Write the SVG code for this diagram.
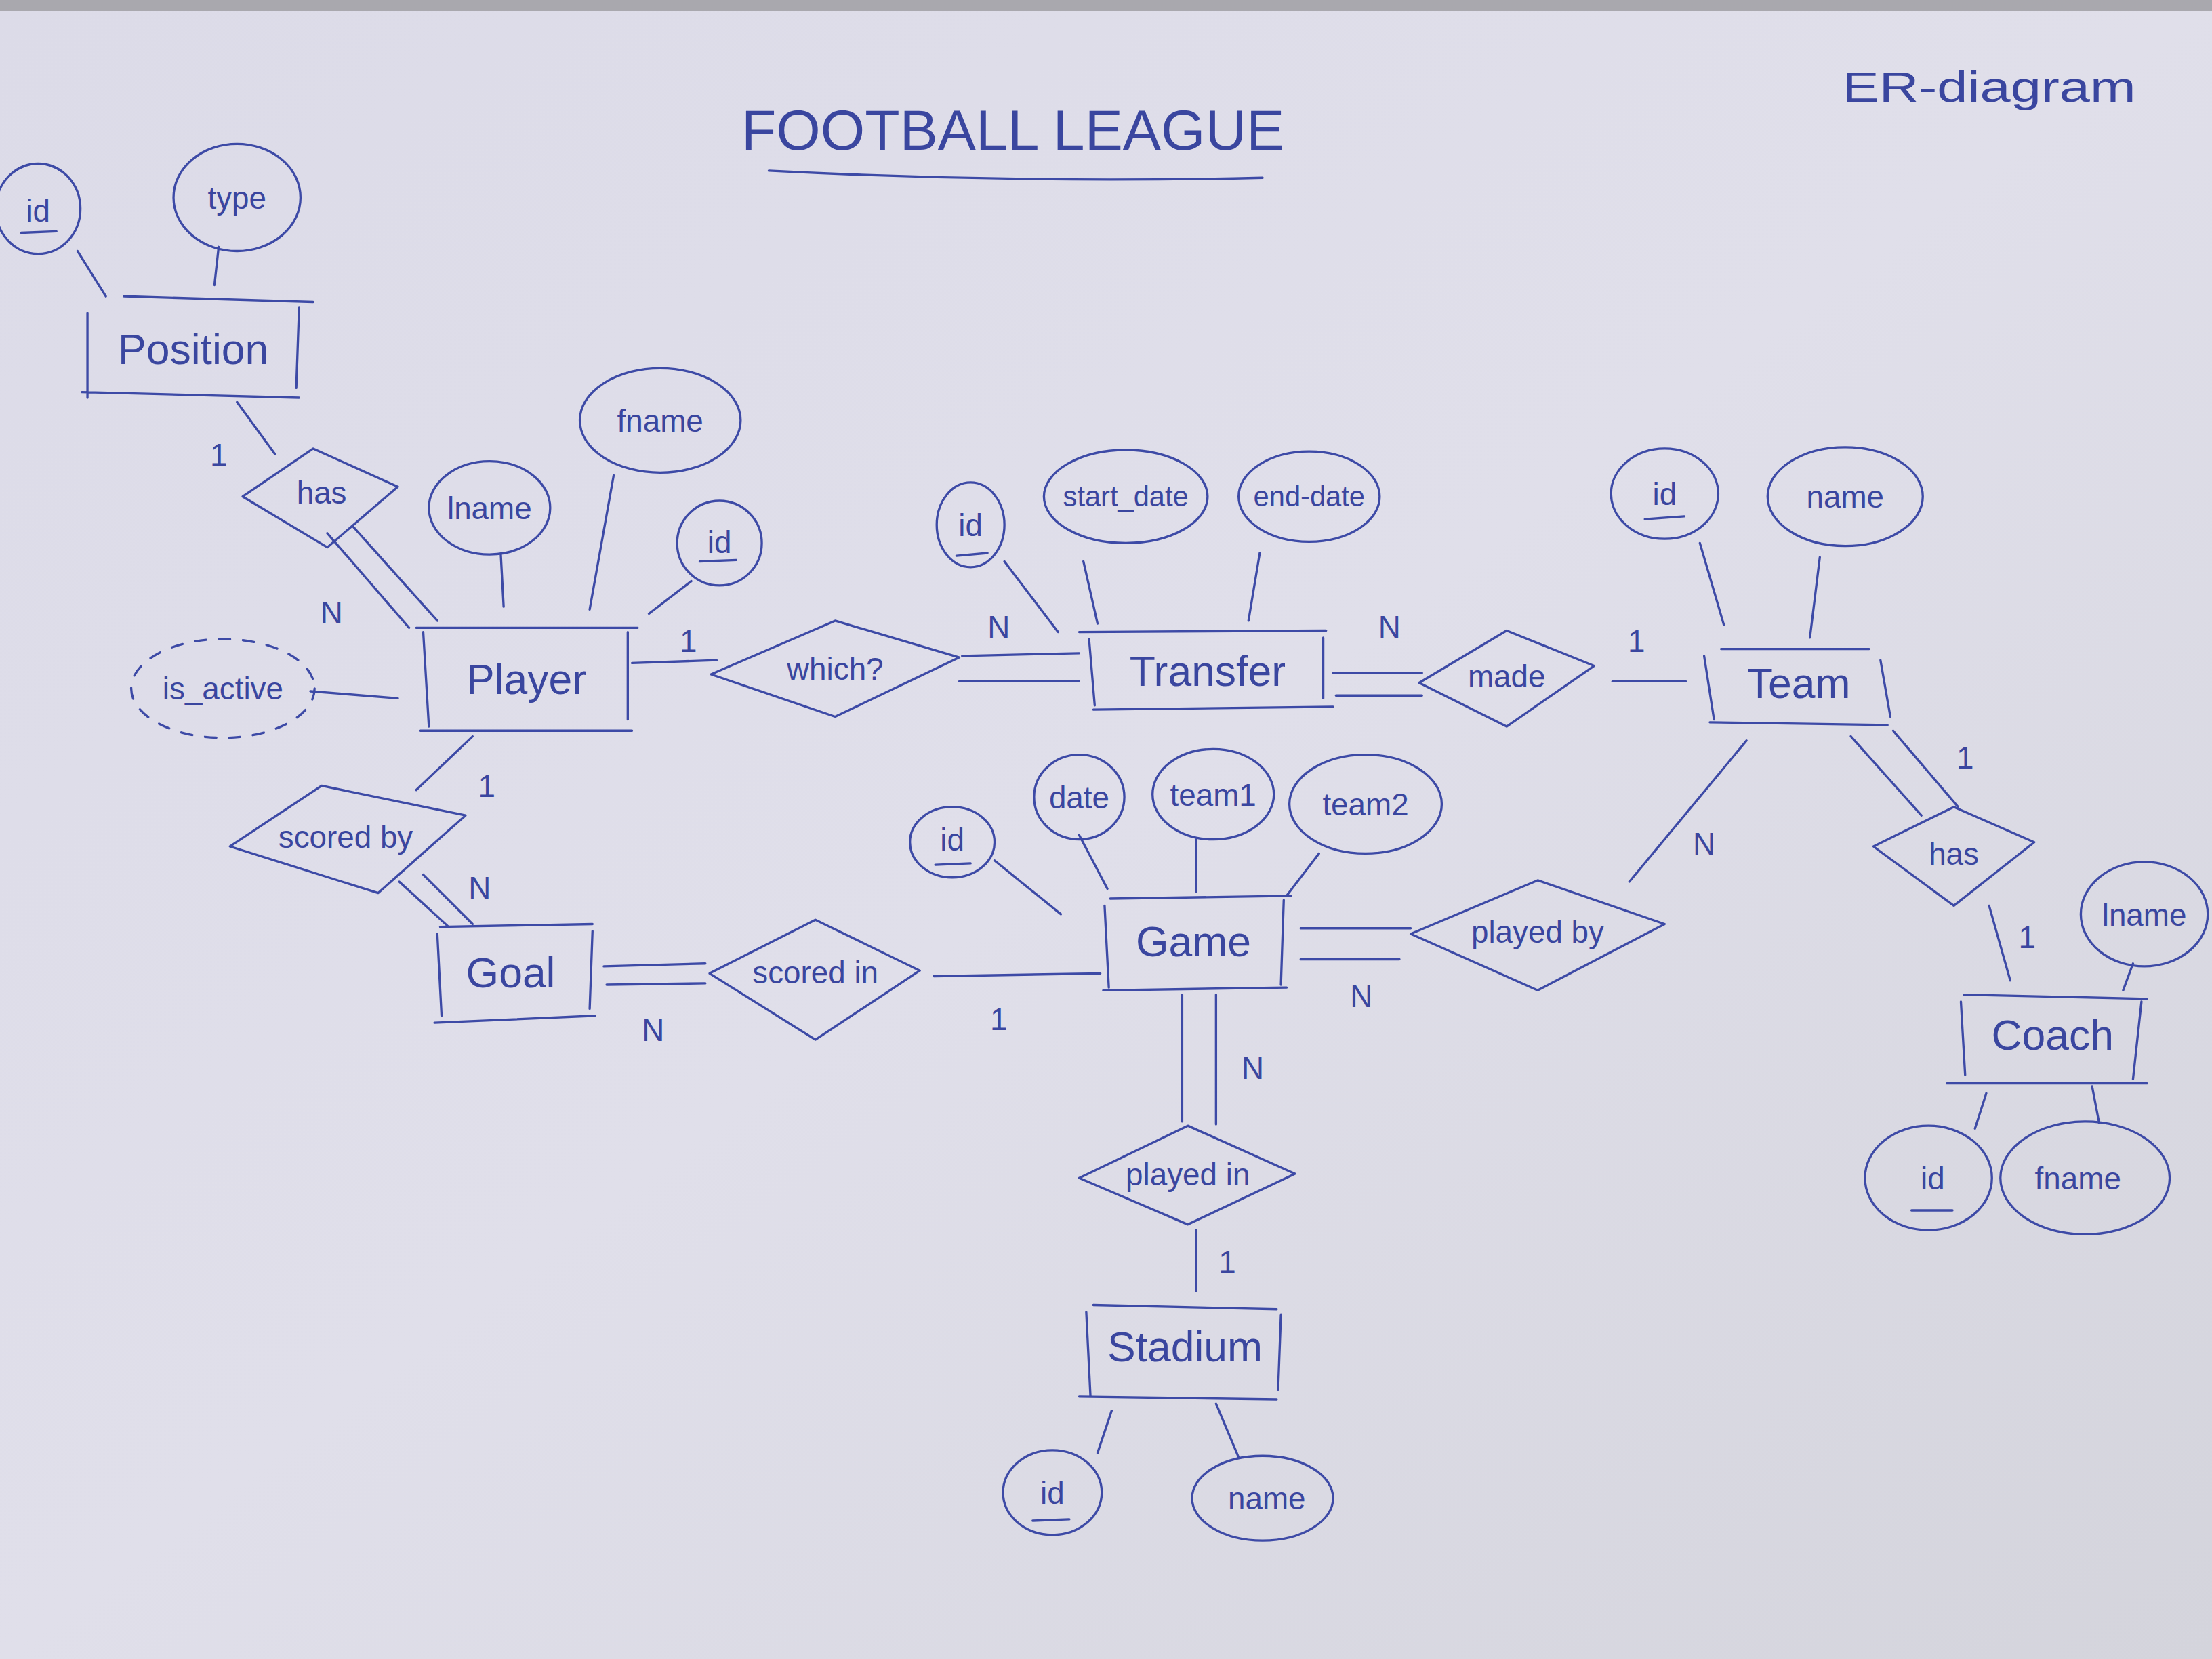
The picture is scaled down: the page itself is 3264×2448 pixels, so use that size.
<svg xmlns="http://www.w3.org/2000/svg" width="3264" height="2448" viewBox="0 0 3264 2448">
<defs>
<linearGradient id="paper" x1="0" y1="0" x2="1" y2="1">
<stop offset="0" stop-color="#dcdbe8"/>
<stop offset="0.5" stop-color="#e0dfea"/>
<stop offset="1" stop-color="#d4d4dc"/>
</linearGradient>
<style>
.ink{fill:none;stroke:#3d4aa6;stroke-width:1.6;stroke-linecap:round;stroke-linejoin:round}
.dash{fill:none;stroke:#3d4aa6;stroke-width:1.6;stroke-dasharray:8 9;stroke-linecap:round}
.t{fill:#3a469f;font-family:"Liberation Sans","DejaVu Sans",sans-serif;text-anchor:middle}
.e{font-size:30px}
.a{font-size:22px}
.c{font-size:22px}
</style>
</defs>
<rect width="3264" height="2448" fill="url(#paper)"/>
<rect width="3264" height="16" fill="#a9a8ae"/>
<g transform="scale(2.08163)">
<g id="title">
<text class="t" x="718" y="106" font-size="40" textLength="385" lengthAdjust="spacingAndGlyphs">FOOTBALL LEAGUE</text>
<path class="ink" d="M545,121 Q720,130 895,126"/>
<text class="t" x="1410" y="72" font-size="30" textLength="208" lengthAdjust="spacingAndGlyphs">ER-diagram</text>
</g>
<g id="connectors">
<path class="ink" d="M55,178 L75,210 M155,175 L152,202"/>
<path class="ink" d="M168,285 L195,322"/>
<path class="ink" d="M232,378 L290,445 M250,373 L310,440"/>
<path class="ink" d="M355,393 L357,430 M435,337 L418,432 M490,412 L460,435 M220,490 L282,495"/>
<path class="ink" d="M448,470 L508,468"/>
<path class="ink" d="M682,465 L765,463 M680,483 L765,483"/>
<path class="ink" d="M712,398 L750,448 M768,398 L778,442 M893,392 L885,440"/>
<path class="ink" d="M945,477 L1008,477 M947,493 L1008,493"/>
<path class="ink" d="M1143,483 L1195,483"/>
<path class="ink" d="M1205,385 L1222,443 M1290,395 L1283,452"/>
<path class="ink" d="M1312,522 L1362,578 M1342,518 L1388,572"/>
<path class="ink" d="M1410,642 L1425,695"/>
<path class="ink" d="M1512,683 L1505,702 M1408,775 L1400,800 M1483,770 L1488,796"/>
<path class="ink" d="M1238,525 L1155,625"/>
<path class="ink" d="M922,658 L1000,658 M922,680 L992,680"/>
<path class="ink" d="M705,610 L752,648 M765,592 L785,630 M848,595 L848,632 M935,605 L912,635"/>
<path class="ink" d="M838,705 L838,795 M862,705 L862,797"/>
<path class="ink" d="M848,872 L848,915"/>
<path class="ink" d="M788,1000 L778,1030 M862,995 L878,1033"/>
<path class="ink" d="M662,692 L780,690"/>
<path class="ink" d="M428,685 L500,683 M430,698 L500,697"/>
<path class="ink" d="M335,522 L295,560"/>
<path class="ink" d="M283,625 L318,657 M300,620 L335,655"/>
<text class="t c" x="155" y="330">1</text>
<text class="t c" x="235" y="442">N</text>
<text class="t c" x="488" y="462">1</text>
<text class="t c" x="708" y="452">N</text>
<text class="t c" x="985" y="452">N</text>
<text class="t c" x="1160" y="462">1</text>
<text class="t c" x="1393" y="545">1</text>
<text class="t c" x="1437" y="672">1</text>
<text class="t c" x="1208" y="606">N</text>
<text class="t c" x="965" y="714">N</text>
<text class="t c" x="888" y="765">N</text>
<text class="t c" x="870" y="902">1</text>
<text class="t c" x="708" y="730">1</text>
<text class="t c" x="463" y="738">N</text>
<text class="t c" x="345" y="565">1</text>
<text class="t c" x="340" y="637">N</text>
</g>
<g id="position">
<path class="ink" d="M62,282 L62,222 M212,218 L210,275 M88,210 L222,214 M58,278 L212,282"/>
<text class="t e" x="137" y="258">Position</text>
</g>
<g id="position-id"><ellipse class="ink" cx="27" cy="148" rx="30" ry="32"/><text class="t a" x="27" y="157">id</text><path class="ink" d="M15,165 L40,164"/></g>
<g id="position-type"><ellipse class="ink" cx="168" cy="140" rx="45" ry="38"/><text class="t a" x="168" y="148">type</text></g>
<g id="has-position"><polygon class="ink" points="172,352 222,318 282,345 232,388"/><text class="t a" x="228" y="357">has</text></g>
<g id="player">
<path class="ink" d="M300,448 L304,515 M445,448 L445,510 M295,445 L452,445 M298,518 L448,518"/>
<text class="t e" x="373" y="492">Player</text>
</g>
<g id="player-lname"><ellipse class="ink" cx="347" cy="360" rx="43" ry="33"/><text class="t a" x="347" y="368">lname</text></g>
<g id="player-fname"><ellipse class="ink" cx="468" cy="298" rx="57" ry="37"/><text class="t a" x="468" y="306">fname</text></g>
<g id="player-id"><ellipse class="ink" cx="510" cy="385" rx="30" ry="30"/><text class="t a" x="510" y="392">id</text><path class="ink" d="M496,398 L522,397"/></g>
<g id="player-is-active"><ellipse class="dash" cx="158" cy="488" rx="65" ry="35"/><text class="t a" x="158" y="496">is_active</text></g>
<g id="which"><polygon class="ink" points="504,478 592,440 680,466 592,508"/><text class="t a" x="592" y="482">which?</text></g>
<g id="transfer">
<path class="ink" d="M772,453 L776,500 M938,452 L938,495 M765,448 L940,447 M775,503 L945,501"/>
<text class="t e" x="856" y="486">Transfer</text>
</g>
<g id="transfer-id"><ellipse class="ink" cx="688" cy="372" rx="24" ry="30"/><text class="t a" x="688" y="380">id</text><path class="ink" d="M678,394 L700,392"/></g>
<g id="transfer-start-date"><ellipse class="ink" cx="798" cy="352" rx="58" ry="33"/><text class="t" x="798" y="359" font-size="20">start_date</text></g>
<g id="transfer-end-date"><ellipse class="ink" cx="928" cy="352" rx="50" ry="32"/><text class="t" x="928" y="359" font-size="20">end-date</text></g>
<g id="made"><polygon class="ink" points="1006,484 1068,447 1130,472 1068,515"/><text class="t a" x="1068" y="487">made</text></g>
<g id="team">
<path class="ink" d="M1208,465 L1215,510 M1333,468 L1340,508 M1220,460 L1325,460 M1212,512 L1338,514"/>
<text class="t e" x="1275" y="495">Team</text>
</g>
<g id="team-id"><ellipse class="ink" cx="1180" cy="350" rx="38" ry="32"/><text class="t a" x="1180" y="358">id</text><path class="ink" d="M1166,368 L1194,366"/></g>
<g id="team-name"><ellipse class="ink" cx="1308" cy="352" rx="55" ry="35"/><text class="t a" x="1308" y="360">name</text></g>
<g id="has-coach"><polygon class="ink" points="1328,600 1385,572 1442,597 1385,642"/><text class="t a" x="1385" y="613">has</text></g>
<g id="coach">
<path class="ink" d="M1390,710 L1393,762 M1518,710 L1512,765 M1392,705 L1522,708 M1380,768 L1522,768"/>
<text class="t e" x="1455" y="744">Coach</text>
</g>
<g id="coach-lname"><ellipse class="ink" cx="1520" cy="648" rx="45" ry="37"/><text class="t a" x="1520" y="656">lname</text></g>
<g id="coach-id"><ellipse class="ink" cx="1367" cy="835" rx="45" ry="37"/><text class="t a" x="1370" y="843">id</text><path class="ink" d="M1355,858 L1384,858"/></g>
<g id="coach-fname"><ellipse class="ink" cx="1478" cy="835" rx="60" ry="40"/><text class="t a" x="1473" y="843">fname</text></g>
<g id="played-by"><polygon class="ink" points="1000,662 1090,624 1180,655 1090,702"/><text class="t a" x="1090" y="668">played by</text></g>
<g id="game">
<path class="ink" d="M783,642 L786,700 M910,638 L908,698 M787,637 L915,635 M782,702 L912,700"/>
<text class="t e" x="846" y="678">Game</text>
</g>
<g id="game-id"><ellipse class="ink" cx="675" cy="597" rx="30" ry="25"/><text class="t a" x="675" y="603">id</text><path class="ink" d="M663,613 L688,612"/></g>
<g id="game-date"><ellipse class="ink" cx="765" cy="565" rx="32" ry="30"/><text class="t a" x="765" y="573">date</text></g>
<g id="game-team1"><ellipse class="ink" cx="860" cy="563" rx="43" ry="32"/><text class="t a" x="860" y="571">team1</text></g>
<g id="game-team2"><ellipse class="ink" cx="968" cy="570" rx="54" ry="35"/><text class="t a" x="968" y="578">team2</text></g>
<g id="played-in"><polygon class="ink" points="765,835 842,798 918,832 842,868"/><text class="t a" x="842" y="840">played in</text></g>
<g id="stadium">
<path class="ink" d="M770,930 L773,990 M908,932 L906,985 M775,925 L905,928 M765,990 L905,992"/>
<text class="t e" x="840" y="965">Stadium</text>
</g>
<g id="stadium-id"><ellipse class="ink" cx="746" cy="1058" rx="35" ry="30"/><text class="t a" x="746" y="1066">id</text><path class="ink" d="M732,1078 L758,1077"/></g>
<g id="stadium-name"><ellipse class="ink" cx="895" cy="1062" rx="50" ry="30"/><text class="t a" x="898" y="1070">name</text></g>
<g id="scored-in"><polygon class="ink" points="503,690 578,652 652,688 578,737"/><text class="t a" x="578" y="697">scored in</text></g>
<g id="goal">
<path class="ink" d="M310,662 L313,720 M420,660 L418,715 M312,657 L420,655 M308,725 L422,720"/>
<text class="t e" x="362" y="700">Goal</text>
</g>
<g id="scored-by"><polygon class="ink" points="163,600 228,557 330,578 268,633"/><text class="t a" x="245" y="601">scored by</text></g>
</g>
</svg>
